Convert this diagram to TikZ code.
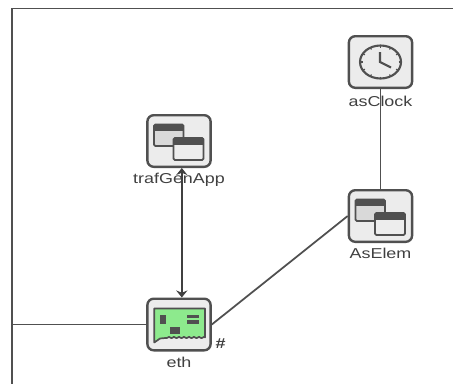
\documentclass[tikz,border=0pt]{standalone}
\usepackage{xcolor}
\usepackage{fontspec}
\setmainfont{Liberation Sans}
\usetikzlibrary{arrows.meta}
\definecolor{mygray}{HTML}{505050}
\definecolor{mytext}{HTML}{404040}
\definecolor{myfill}{HTML}{ECECEC}
\definecolor{mygreen}{HTML}{8DEA8D}

\begin{document}
\begin{tikzpicture}[
	x=0.025cm,y=-0.025cm,
	font=\fontsize{10.2pt}{12pt}\selectfont
]
\tikzset{
    mybox/.style = {rectangle, draw=mygray, line width=1.7pt, rounded corners=4.5pt, fill=myfill, minimum width=1.58cm, minimum height=1.29cm, inner sep=0pt},
    mylabel/.style = {text=mytext, xscale=1.25, inner sep=0pt},
    myline/.style = {draw=mygray, line width=1.25pt},
    winback/.style = {draw=mygray, line width=1.3pt, rounded corners=1pt, fill=black!15},
    winfront/.style = {draw=mygray, line width=1.3pt, rounded corners=1pt, fill=black!7},
    windows/.pic = {
        \draw[winback] (-25,-16.5) rectangle (4.5,5);
        \fill[mygray] (-25,-16.5) rectangle (4.5,-10);
        \draw[winfront] (-5.5,-3) rectangle (24.5,19);
        \fill[mygray] (-5.5,-3) rectangle (24.5,3.5);
    },
    clockface/.pic = {
        \draw[mygray, line width=1.5pt] (0,0) ellipse [x radius=20.5, y radius=16.5];
        \foreach \a in {0,30,...,330}
            \draw[mygray, line width=0.8pt] ({18*cos(\a)},{14.5*sin(\a)}) -- ({20.5*cos(\a)},{16.5*sin(\a)});
        \draw[mygray, line width=1.5pt] (-0.5,-10) -- (-0.5,0) -- (10.5,5.5);
    },
    netcard/.pic = {
        \draw[draw=mygray, line width=1.2pt, fill=mygreen, line join=round]
            (-24.7,-16) -- (26,-16) -- (26,12.5)
            -- plot[domain=26:-13,samples=60] (\x,{12.2+1.3*abs(sin(\x*36))})
            -- (-19,14) -- (-24.7,18) -- cycle;
        \fill[mygray] (-18.7,-10) rectangle (-12.7,-1);
        \fill[mygray] (-9.3,2) rectangle (0.7,9);
        \fill[mygray] (7.7,-10) rectangle (20.3,-6.7);
        \fill[mygray] (7.7,-4.5) rectangle (20.3,-1);
    }
}
% frame
\useasboundingbox (0,0) rectangle (453,384);
\coordinate (frameleft) at (12,324.5);
\draw[mygray, line width=1.4pt] (453,8.5) -- (12,8.5) -- (12,384);

% labels go under the lines
\node[mylabel] (asclocklbl) at (380.5,101.5) {asClock};
\node[mylabel] (trafgenapplbl) at (179,179.5) {trafGenApp};
\node[mylabel] (ethlbl) at (179,362.5) {eth};
\node[mylabel] (aselemlbl) at (380.5,253.5) {AsElem};
\node[mylabel,font=\fontsize{10.2pt}{12pt}\selectfont\bfseries] (ethhash) at (220.5,344) {\#};

% modules
\node[mybox] (asclock) at (380.5,62) {};
\node[mybox] (trafgenapp) at (179,141) {};
\node[mybox] (eth) at (179,324.5) {};
\node[mybox] (aselem) at (380.5,216) {};
\pic at (asclock) {clockface};
\pic at (trafgenapp) {windows};
\pic at (eth) {netcard};
\pic at (aselem) {windows};

% connections
\draw[myline] (eth.west) -- (frameleft);
\draw[myline] (eth.east) -- (aselem.west);
\draw[myline] (asclock.south) -- (aselem.north);
\draw[{Stealth[length=5pt,width=8pt]}-{Stealth[length=5pt,width=8pt]}, draw=black!75, line width=1.1pt]
    ([xshift=2pt]trafgenapp.south) -- ([xshift=2pt]eth.north);
\end{tikzpicture}
\end{document}
